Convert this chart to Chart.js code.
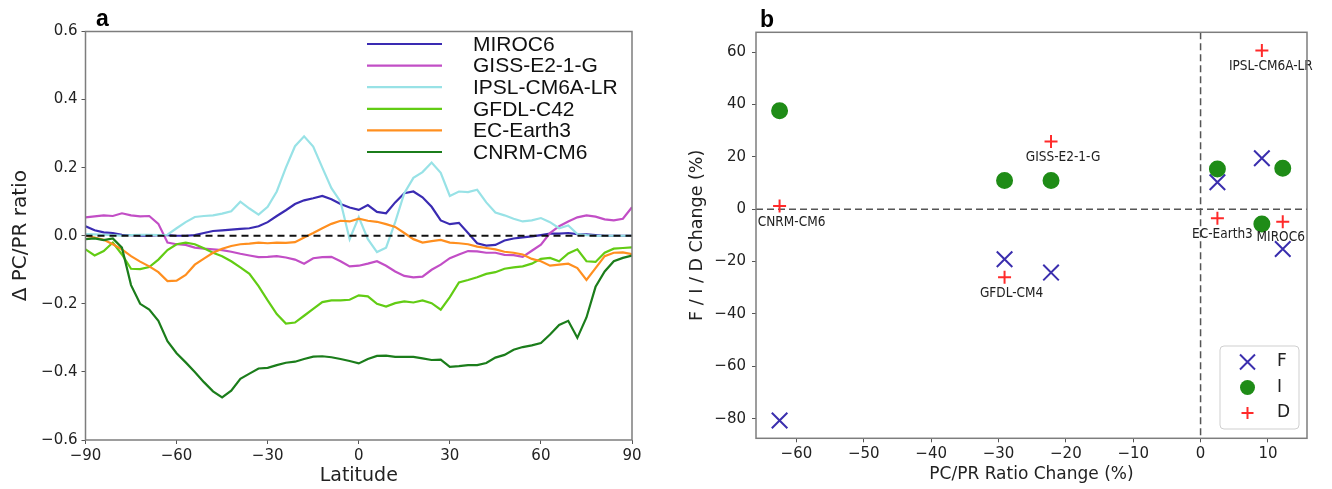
<!DOCTYPE html>
<html><head><meta charset="utf-8">
<script src="https://cdn.jsdelivr.net/npm/chart.js@4.4.1/dist/chart.umd.min.js"></script>
<style>
html,body{margin:0;padding:0;background:#fff;}
#wrap{position:relative;width:1332px;height:489px;overflow:hidden;background:#fff;}
#cA{position:absolute;left:0;top:0;}
#cB{position:absolute;left:660px;top:0;}
</style></head><body>
<div id="wrap"><canvas id="cA" width="660" height="489"></canvas><canvas id="cB" width="672" height="489"></canvas></div>
<script>
// ---------- Panel a data ----------
const latitude = [-90,-87,-84,-81,-78,-75,-72,-69,-66,-63,-60,-57,-54,-51,-48,-45,-42,-39,-36,-33,-30,-27,-24,-21,-18,-15,-12,-9,-6,-3,0,3,6,9,12,15,18,21,24,27,30,33,36,39,42,45,48,51,54,57,60,63,66,69,72,75,78,81,84,87,90];
const miroc6 = [0.028,0.016,0.010,0.008,0.003,0.002,0.000,0.000,0.002,0.002,0.000,0.000,0.002,0.008,0.014,0.016,0.018,0.020,0.022,0.028,0.040,0.058,0.075,0.093,0.104,0.110,0.117,0.107,0.093,0.083,0.076,0.090,0.070,0.066,0.098,0.125,0.130,0.113,0.085,0.045,0.034,0.038,0.008,-0.022,-0.029,-0.027,-0.014,-0.008,-0.005,-0.002,0.002,0.006,0.006,0.008,0.005,0.004,0.002,0.000,0.000,0.000,0.000];
const giss = [0.054,0.057,0.060,0.058,0.066,0.060,0.057,0.058,0.035,-0.020,-0.025,-0.027,-0.035,-0.038,-0.040,-0.042,-0.047,-0.053,-0.058,-0.063,-0.062,-0.060,-0.064,-0.070,-0.082,-0.066,-0.063,-0.062,-0.075,-0.090,-0.088,-0.082,-0.075,-0.088,-0.105,-0.118,-0.122,-0.120,-0.100,-0.085,-0.066,-0.055,-0.045,-0.046,-0.050,-0.050,-0.056,-0.057,-0.062,-0.044,-0.026,0.008,0.028,0.042,0.054,0.060,0.056,0.048,0.045,0.050,0.084];
const ipsl = [0.005,0.004,0.003,0.002,0.000,0.002,0.003,0.003,0.002,0.003,0.022,0.040,0.055,0.058,0.060,0.065,0.072,0.100,0.080,0.062,0.085,0.130,0.200,0.263,0.292,0.262,0.200,0.140,0.100,-0.010,0.055,-0.010,-0.048,-0.035,0.040,0.125,0.170,0.187,0.215,0.185,0.117,0.130,0.128,0.135,0.098,0.068,0.060,0.050,0.042,0.045,0.052,0.040,0.022,0.030,0.005,0.002,0.000,0.000,0.000,0.000,0.000];
const gfdl = [-0.040,-0.058,-0.045,-0.020,-0.055,-0.097,-0.098,-0.092,-0.070,-0.042,-0.025,-0.020,-0.025,-0.037,-0.050,-0.060,-0.075,-0.093,-0.112,-0.148,-0.190,-0.230,-0.258,-0.255,-0.235,-0.215,-0.195,-0.190,-0.190,-0.188,-0.175,-0.178,-0.200,-0.208,-0.198,-0.193,-0.196,-0.190,-0.198,-0.217,-0.180,-0.137,-0.130,-0.122,-0.112,-0.107,-0.097,-0.093,-0.090,-0.082,-0.068,-0.065,-0.075,-0.052,-0.040,-0.075,-0.077,-0.050,-0.038,-0.036,-0.034];
const ecEarth3 = [0.000,-0.005,-0.012,-0.025,-0.040,-0.060,-0.076,-0.090,-0.107,-0.133,-0.132,-0.115,-0.085,-0.067,-0.050,-0.038,-0.030,-0.025,-0.023,-0.020,-0.022,-0.020,-0.021,-0.019,-0.005,0.008,0.022,0.035,0.044,0.042,0.050,0.044,0.041,0.034,0.026,0.008,-0.010,-0.020,-0.016,-0.012,-0.020,-0.022,-0.025,-0.032,-0.036,-0.040,-0.047,-0.050,-0.055,-0.068,-0.075,-0.088,-0.085,-0.082,-0.095,-0.130,-0.095,-0.060,-0.050,-0.049,-0.054];
const cnrm = [-0.010,-0.008,-0.013,-0.008,-0.035,-0.145,-0.200,-0.217,-0.250,-0.310,-0.345,-0.372,-0.400,-0.430,-0.457,-0.475,-0.455,-0.420,-0.405,-0.390,-0.388,-0.380,-0.373,-0.370,-0.362,-0.355,-0.354,-0.357,-0.362,-0.368,-0.375,-0.362,-0.353,-0.352,-0.356,-0.356,-0.356,-0.360,-0.365,-0.364,-0.385,-0.383,-0.380,-0.380,-0.374,-0.358,-0.350,-0.335,-0.327,-0.322,-0.315,-0.290,-0.262,-0.250,-0.300,-0.240,-0.150,-0.105,-0.075,-0.065,-0.058];
const modelNamesA = ['MIROC6','GISS-E2-1-G','IPSL-CM6A-LR','GFDL-C42','EC-Earth3','CNRM-CM6'];
const latTicks = [-90,-60,-30,0,30,60,90];
const ratioTicks = [-0.6,-0.4,-0.2,0.0,0.2,0.4,0.6];

// ---------- Panel b data ----------
const models = ['CNRM-CM6','GFDL-CM4','GISS-E2-1-G','EC-Earth3','IPSL-CM6A-LR','MIROC6'];
const ratioChange = [-62.5,-29.1,-22.2,2.5,9.1,12.2];
const fChange = [-80.7,-19.1,-24.2,10.3,19.5,-15.2];
const iChange = [37.6,11.0,11.0,15.4,-5.6,15.7];
const dChange = [1.2,-26.0,25.9,-3.4,60.6,-4.8];
const seriesNamesB = ['F','I','D'];
const xTicksB = [-60,-50,-40,-30,-20,-10,0,10];
const yTicksB = [-80,-60,-40,-20,0,20,40,60];

// ---------- helpers ----------
const MINUS = '\u2212';
function fmt(v, d){ const s = Math.abs(v).toFixed(d); return (v < -1e-9 ? MINUS : '') + s; }
function setTicks(arr){ return function(scale){ scale.ticks = arr.map(v => ({value: v})); }; }
Chart.defaults.font.family = 'DejaVu Sans';
Chart.defaults.color = '#222';
Chart.defaults.animation = false;

const boxPlugin = {
  id: 'boxFrame',
  afterDraw(chart, args, o){
    const {ctx, chartArea: a} = chart;
    ctx.save(); ctx.strokeStyle = o.color; ctx.lineWidth = o.width;
    ctx.strokeRect(a.left, a.top, a.right - a.left, a.bottom - a.top);
    ctx.fillStyle = '#000'; ctx.font = o.labelFont; ctx.textBaseline = 'alphabetic'; ctx.textAlign = 'left';
    ctx.fillText(o.label, o.labelX, o.labelY);
    ctx.restore();
  }
};

// ---------- Panel a ----------
const colorsA = ['#3a2bb2','#c24ec6','#98e2e6','#62cc14','#ff8f1f','#1b7d1b'];
const seriesA = [miroc6, giss, ipsl, gfdl, ecEarth3, cnrm];
const zeroLineA = {
  id: 'zeroLineA',
  afterDatasetsDraw(chart){
    const {ctx, chartArea: a, scales} = chart;
    const y = scales.y.getPixelForValue(0);
    ctx.save(); ctx.strokeStyle = '#111'; ctx.lineWidth = 2; ctx.setLineDash([7,5]);
    ctx.beginPath(); ctx.moveTo(a.left, y); ctx.lineTo(a.right, y); ctx.stroke(); ctx.restore();
  }
};
const legendA = {
  id: 'legendA',
  afterDraw(chart){
    const ctx = chart.ctx;
    ctx.save();
    ctx.font = '21px "Liberation Sans", Arial, sans-serif';
    ctx.textBaseline = 'middle'; ctx.textAlign = 'left';
    chart.data.datasets.forEach((ds, i) => {
      const y = 44 + i * 21.6;
      ctx.strokeStyle = ds.borderColor; ctx.lineWidth = 2.2;
      ctx.beginPath(); ctx.moveTo(367, y); ctx.lineTo(442, y); ctx.stroke();
      ctx.fillStyle = '#111'; ctx.fillText(ds.label, 473, y + 1);
    });
    ctx.restore();
  }
};
new Chart(document.getElementById('cA'), {
  type: 'line',
  data: {
    datasets: seriesA.map((vals, i) => ({
      label: modelNamesA[i],
      data: latitude.map((lat, k) => ({x: lat, y: vals[k]})),
      borderColor: colorsA[i], borderWidth: 2.2, pointRadius: 0, tension: 0, fill: false,
      order: seriesA.length - i
    }))
  },
  options: {
    responsive: false, animation: false,
    layout: {padding: {left: 0, right: 28, top: 31.5, bottom: 0}},
    plugins: {legend: {display: false}, tooltip: {enabled: false},
      boxFrame: {color: '#7d7d7d', width: 1.5, label: 'a', labelFont: 'bold 23px "Liberation Sans", Arial, sans-serif', labelX: 96, labelY: 26}},
    scales: {
      x: {type: 'linear', min: -90, max: 90,
        afterBuildTicks: setTicks(latTicks),
        afterFit(s){ s.height = 49; },
        grid: {drawOnChartArea: false, drawTicks: true, tickLength: 4, color: '#555'},
        border: {display: false},
        ticks: {padding: 3, font: {size: 15}, color: '#222', callback: v => fmt(v, 0), maxRotation: 0},
        title: {display: true, text: 'Latitude', font: {size: 19}, color: '#222', padding: {top: 0, bottom: 2}}
      },
      y: {type: 'linear', min: -0.6, max: 0.6,
        afterBuildTicks: setTicks(ratioTicks),
        afterFit(s){ s.width = 85.5; },
        grid: {drawOnChartArea: false, drawTicks: true, tickLength: 4, color: '#555'},
        border: {display: false},
        ticks: {padding: 4, font: {size: 15}, color: '#222', callback: v => fmt(v, 1)},
        title: {display: true, text: '\u0394 PC/PR ratio', font: {size: 20}, color: '#222', padding: {top: 9, bottom: 0}}
      }
    }
  },
  plugins: [zeroLineA, legendA, boxPlugin]
});

// ---------- Panel b ----------
const colorsB = ['#3b2fae','#1f8c17','#ff2a2a'];
const crossHairB = {
  id: 'crossHairB',
  beforeDatasetsDraw(chart){
    const {ctx, chartArea: a, scales} = chart;
    const x0 = scales.x.getPixelForValue(0), y0 = scales.y.getPixelForValue(0);
    ctx.save(); ctx.strokeStyle = '#555'; ctx.lineWidth = 1.5; ctx.setLineDash([7,4]);
    ctx.beginPath(); ctx.moveTo(a.left, y0); ctx.lineTo(a.right, y0); ctx.stroke();
    ctx.beginPath(); ctx.moveTo(x0, a.top); ctx.lineTo(x0, a.bottom); ctx.stroke();
    ctx.restore();
  }
};
const labelDx = [12, 7, 12, 5, 9, -2];
const modelLabelsB = {
  id: 'modelLabelsB',
  afterDatasetsDraw(chart){
    const ctx = chart.ctx; const meta = chart.getDatasetMeta(2);
    ctx.save();
    ctx.font = '13.5px "DejaVu Sans Condensed", "DejaVu Sans", sans-serif';
    ctx.fillStyle = '#222'; ctx.textAlign = 'center'; ctx.textBaseline = 'middle';
    meta.data.forEach((pt, i) => { ctx.fillText(models[i], pt.x + labelDx[i], pt.y + 16); });
    ctx.restore();
  }
};
function drawMarker(ctx, style, x, y, color){
  ctx.save(); ctx.strokeStyle = color; ctx.fillStyle = color; ctx.lineWidth = 2;
  ctx.beginPath();
  if (style === 'crossRot'){ const r = 7.5; ctx.moveTo(x-r,y-r); ctx.lineTo(x+r,y+r); ctx.moveTo(x-r,y+r); ctx.lineTo(x+r,y-r); ctx.stroke(); }
  else if (style === 'circle'){ ctx.arc(x, y, 7.5, 0, Math.PI*2); ctx.fill(); }
  else { const r = 6; ctx.moveTo(x-r,y); ctx.lineTo(x+r,y); ctx.moveTo(x,y-r); ctx.lineTo(x,y+r); ctx.stroke(); }
  ctx.restore();
}
const legendB = {
  id: 'legendB',
  afterDraw(chart){
    const ctx = chart.ctx;
    const bx = 560, by = 346, bw = 79, bh = 83, r = 4;
    ctx.save();
    ctx.beginPath();
    ctx.moveTo(bx+r, by); ctx.lineTo(bx+bw-r, by); ctx.quadraticCurveTo(bx+bw, by, bx+bw, by+r);
    ctx.lineTo(bx+bw, by+bh-r); ctx.quadraticCurveTo(bx+bw, by+bh, bx+bw-r, by+bh);
    ctx.lineTo(bx+r, by+bh); ctx.quadraticCurveTo(bx, by+bh, bx, by+bh-r);
    ctx.lineTo(bx, by+r); ctx.quadraticCurveTo(bx, by, bx+r, by);
    ctx.fillStyle = 'rgba(255,255,255,0.85)'; ctx.fill();
    ctx.strokeStyle = '#cfcfcf'; ctx.lineWidth = 1; ctx.stroke();
    ctx.font = '17px "DejaVu Sans", sans-serif'; ctx.textBaseline = 'middle'; ctx.textAlign = 'left';
    chart.data.datasets.forEach((ds, i) => {
      const y = 362 + i * 25.5;
      drawMarker(ctx, ds.pointStyle, 587.5, y, ds.borderColor);
      ctx.fillStyle = '#222'; ctx.fillText(ds.label, 617, y);
    });
    ctx.restore();
  }
};
const valsB = [fChange, iChange, dChange];
const stylesB = ['crossRot','circle','cross'];
const radiiB = [11, 7.5, 6.5];
new Chart(document.getElementById('cB'), {
  type: 'scatter',
  data: {
    datasets: valsB.map((vals, i) => ({
      label: seriesNamesB[i],
      data: ratioChange.map((x, k) => ({x: x, y: vals[k]})),
      pointStyle: stylesB[i], pointRadius: radiiB[i], pointBorderWidth: 2,
      borderColor: colorsB[i], backgroundColor: colorsB[i], showLine: false,
      order: 3 - i
    }))
  },
  options: {
    responsive: false, animation: false,
    layout: {padding: {left: 0, right: 25, top: 32.3, bottom: 0}},
    plugins: {legend: {display: false}, tooltip: {enabled: false},
      boxFrame: {color: '#7d7d7d', width: 1.5, label: 'b', labelFont: 'bold 23px "Liberation Sans", Arial, sans-serif', labelX: 100, labelY: 27}},
    scales: {
      x: {type: 'linear', min: -66, max: 15.8,
        afterBuildTicks: setTicks(xTicksB),
        afterFit(s){ s.height = 50.7; },
        grid: {drawOnChartArea: false, drawTicks: true, tickLength: 4, color: '#555'},
        border: {display: false},
        ticks: {padding: 3, font: {size: 15}, color: '#222', callback: v => fmt(v, 0), maxRotation: 0},
        title: {display: true, text: 'PC/PR Ratio Change (%)', font: {size: 17}, color: '#222', padding: {top: 0, bottom: 4}}
      },
      y: {type: 'linear', min: -87.5, max: 67.6,
        afterBuildTicks: setTicks(yTicksB),
        afterFit(s){ s.width = 96; },
        grid: {drawOnChartArea: false, drawTicks: true, tickLength: 4, color: '#555'},
        border: {display: false},
        ticks: {padding: 6, font: {size: 15}, color: '#222', callback: v => fmt(v, 0)},
        title: {display: true, text: 'F / I / D Change (%)', font: {size: 17.5}, color: '#222', padding: {top: 27, bottom: 0}}
      }
    }
  },
  plugins: [crossHairB, modelLabelsB, legendB, boxPlugin]
});
</script>
</body></html>
